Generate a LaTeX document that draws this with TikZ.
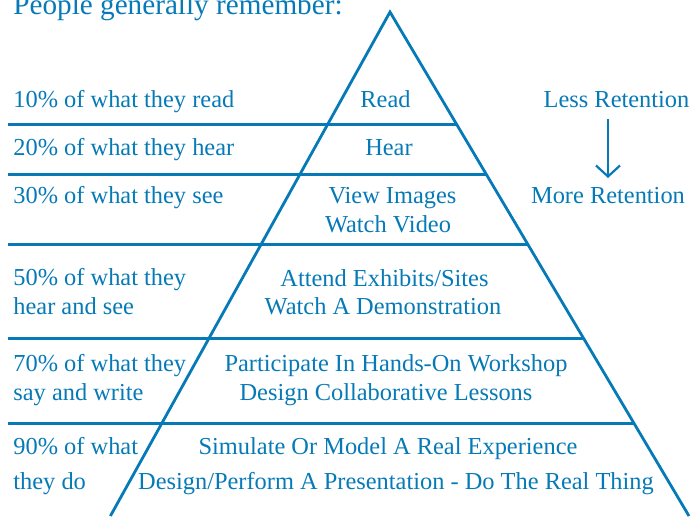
\documentclass[tikz,border=0pt]{standalone}
\usepackage{fontspec}
\setmainfont{Liberation Serif}
\usetikzlibrary{arrows.meta}
\definecolor{ink}{RGB}{6,122,182}
\begin{document}
\begin{tikzpicture}[x=0.5pt,y=-0.5pt,
  rule/.style={draw=ink,line width=1.4pt},
  lbl/.style={text=ink,inner sep=0pt,font=\fontsize{12.2pt}{14pt}\selectfont},
  leftlbl/.style={lbl,anchor=base west},
  midlbl/.style={lbl,anchor=base},
  title/.style={text=ink,inner sep=0pt,anchor=base west,font=\fontsize{14.6pt}{17pt}\selectfont}]
\useasboundingbox (0,0) rectangle (693,516);
\begin{scope}
\clip (0,0) rectangle (693,516);
% pyramid sides
\coordinate (apex) at (390,12);
\coordinate (bl) at (110.4,516);
\coordinate (br) at (689,516);
\draw[rule,line join=miter] (bl) -- (apex) -- (br);
% tier separators, each ending on the right side
\foreach \y in {124.5,174.3,244.3,338.8,423.2}{
  \draw[rule] (8,\y) -- ({390+0.5935*(\y-12)},\y);
}
\end{scope}
% heading, running off the top edge
\node[title] (head) at (13,14) {People generally remember:};
% left column
\node[leftlbl] (p10) at (13,107) {10\% of what they read};
\node[leftlbl] (p20) at (13,155) {20\% of what they hear};
\node[leftlbl] (p30) at (13,203) {30\% of what they see};
\node[leftlbl] (p50a) at (13,285.5) {50\% of what they};
\node[leftlbl] (p50b) at (13,314) {hear and see};
\node[leftlbl] (p70a) at (13,371) {70\% of what they};
\node[leftlbl] (p70b) at (13,400) {say and write};
\node[leftlbl] (p90a) at (13,454) {90\% of what};
\node[leftlbl] (p90b) at (13,489) {they do};
% activities inside the pyramid
\node[midlbl] (read) at (385.5,107) {Read};
\node[midlbl] (hear) at (389,155) {Hear};
\node[midlbl] (view) at (392.5,203) {View Images};
\node[midlbl] (video) at (388,232) {Watch Video};
\node[midlbl] (attend) at (384.5,286) {Attend Exhibits/Sites};
\node[midlbl] (demo) at (383,314.5) {Watch A Demonstration};
\node[midlbl] (hands) at (396,371) {Participate In Hands-On Workshop};
\node[midlbl] (collab) at (386,400) {Design Collaborative Lessons};
\node[midlbl] (sim) at (388,454) {Simulate Or Model A Real Experience};
\node[midlbl] (real) at (396,489) {Design/Perform A Presentation - Do The Real Thing};
% retention scale
\node[midlbl] (less) at (616.5,107) {Less Retention};
\node[midlbl] (more) at (608,203) {More Retention};
\coordinate (arrtop) at (608,119);
\coordinate (arrtip) at (608,178);
\draw[draw=ink,line width=1.1pt,-{Straight Barb[length=5.5pt,width=12pt]}] (arrtop) -- (arrtip);
\end{tikzpicture}
\end{document}
